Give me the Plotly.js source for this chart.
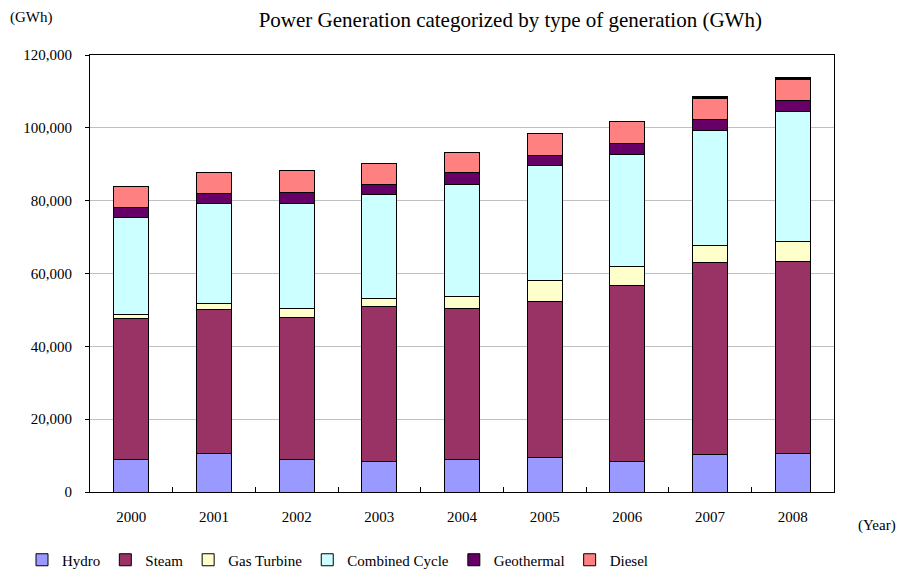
<!DOCTYPE html>
<html>
<head>
<meta charset="utf-8">
<script src="https://cdn.plot.ly/plotly-3.0.1.min.js"></script>
<style>html,body{margin:0;padding:0;background:#fff;}#chart{width:900px;height:569px;}</style>
</head>
<body>
<div id="chart"></div>
<script>
var years = ["2000","2001","2002","2003","2004","2005","2006","2007","2008"];
var hydro = [8800, 10700, 8800, 8400, 8800, 9500, 8400, 10400, 10700];
var steam = [38800, 39500, 39100, 42500, 41700, 42800, 48200, 52500, 52500];
var gasTurbine = [1200, 1500, 2400, 2300, 3300, 5800, 5200, 4800, 5500];
var combinedCycle = [26700, 27400, 28800, 28400, 30700, 31500, 30900, 31700, 35700];
var geothermal = [2500, 2900, 3200, 2900, 3300, 2900, 3000, 2900, 3200];
var diesel = [5900, 5800, 5900, 5800, 5500, 5900, 6100, 5800, 5600];
var other = [null, null, null, null, null, null, null, 500, 700];

var seriesNames = ["Hydro","Steam","Gas Turbine","Combined Cycle","Geothermal","Diesel"];
var seriesData = [hydro, steam, gasTurbine, combinedCycle, geothermal, diesel];
var seriesColors = ["#9999FF","#993366","#FFFFCC","#CCFFFF","#660066","#FF8080"];

var FONT = "Liberation Serif, Times New Roman, serif";

var traces = seriesNames.map(function(n, i){
  return {
    type: "bar", name: n, x: years, y: seriesData[i],
    marker: {color: seriesColors[i], line: {color: "#000", width: 1}},
    hoverinfo: "x+y+name"
  };
});
traces.push({
  type: "bar", name: "Other", x: years, y: other, showlegend: false,
  marker: {color: "#000000", line: {color: "#000", width: 1}}
});

var layout = {
  width: 900, height: 569,
  margin: {l: 90, r: 66, t: 55, b: 77, pad: 0, autoexpand: false},
  barmode: "stack",
  bargap: 0.58,
  paper_bgcolor: "#fff", plot_bgcolor: "#fff",
  font: {family: FONT, size: 15, color: "#000"},
  title: {
    text: "Power Generation categorized by type of generation (GWh)",
    font: {family: FONT, size: 21, color: "#000"},
    xref: "container", yref: "container",
    x: 0.567, xanchor: "center", y: 1 - 20/569, yanchor: "middle",
    automargin: false
  },
  xaxis: {
    type: "category",
    showline: true, linecolor: "#000", linewidth: 1, mirror: true,
    ticks: "inside", tickson: "boundaries", ticklen: 5, tickcolor: "#000",
    showgrid: false,
    tickfont: {family: FONT, size: 15, color: "#000"},
    ticklabelstandoff: 11
  },
  yaxis: {
    range: [0, 120000], dtick: 20000, tickformat: ",d",
    showline: true, linecolor: "#000", linewidth: 1, mirror: true,
    ticks: "outside", ticklen: 4, tickcolor: "#000",
    showgrid: true, gridcolor: "#c0c0c0", gridwidth: 1,
    zeroline: false,
    tickfont: {family: FONT, size: 15, color: "#000"},
    ticklabelstandoff: 10
  },
  legend: {
    orientation: "h", xref: "container", yref: "container",
    x: 22/900, xanchor: "left", y: 1 - 560/569, yanchor: "middle",
    font: {family: FONT, size: 15, color: "#000"},
    traceorder: "normal", itemclick: false, itemwidth: 30,
    tracegroupgap: 0
  },
  annotations: [
    {text: "(GWh)", xref: "paper", yref: "paper", x: (8 - 90)/744, y: (492 - 17)/437, xanchor: "left", yanchor: "middle",
     showarrow: false, font: {family: FONT, size: 15, color: "#000"}},
    {text: "(Year)", xref: "paper", yref: "paper", x: (898 - 90)/744, y: (492 - 525)/437, xanchor: "right", yanchor: "middle",
     showarrow: false, font: {family: FONT, size: 15, color: "#000"}}
  ],
  showlegend: true
};

Plotly.newPlot("chart", traces, layout, {displayModeBar: false, staticPlot: true});
</script>
</body>
</html>
